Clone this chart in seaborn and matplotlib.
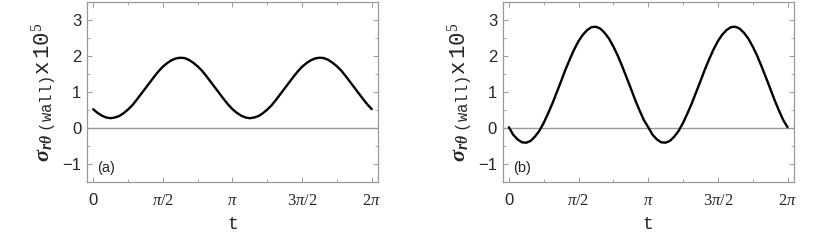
import numpy as np
import pandas as pd
import matplotlib
matplotlib.use("Agg")
import matplotlib.pyplot as plt
import seaborn as sns

# t sampled every pi/32 over 0..2pi
t_steps = list(range(65))  # multiples of pi/32

# panel (a) stress values (x 1e-5)
stress_a = [0.52, 0.42, 0.34, 0.29, 0.27, 0.29, 0.33, 0.41, 0.51, 0.63, 0.78,
            0.94, 1.10, 1.26, 1.42, 1.57, 1.70, 1.80, 1.88, 1.93, 1.95, 1.94,
            1.89, 1.81, 1.71, 1.59, 1.44, 1.28, 1.12, 0.96, 0.80, 0.65, 0.52,
            0.42, 0.34, 0.29, 0.27, 0.29, 0.33, 0.41, 0.51, 0.63, 0.78, 0.94,
            1.10, 1.26, 1.42, 1.57, 1.70, 1.80, 1.88, 1.93, 1.95, 1.94, 1.89,
            1.81, 1.71, 1.59, 1.44, 1.28, 1.12, 0.96, 0.80, 0.65, 0.52]

# panel (b)
stress_b = [0.02, -0.19, -0.32, -0.40, -0.41, -0.36, -0.24, -0.08, 0.14, 0.40,
            0.68, 0.99, 1.30, 1.62, 1.91, 2.18, 2.41, 2.59, 2.72, 2.80, 2.81,
            2.76, 2.64, 2.48, 2.26, 2.01, 1.72, 1.41, 1.10, 0.78, 0.49, 0.22,
            0.02, -0.19, -0.32, -0.40, -0.41, -0.36, -0.24, -0.08, 0.14, 0.40,
            0.68, 0.99, 1.30, 1.62, 1.91, 2.18, 2.41, 2.59, 2.72, 2.80, 2.81,
            2.76, 2.64, 2.48, 2.26, 2.01, 1.72, 1.41, 1.10, 0.78, 0.49, 0.22,
            0.02]

xtick_labels = ["0", r"$\pi/2$", r"$\pi$", r"$3\pi/2$", r"$2\pi$"]
ytick_labels = ["\u22121", "0", "1", "2", "3"]
panel_labels = ["(a)", "(b)"]

sns.set_style("ticks")
plt.rcParams["font.family"] = ["Liberation Sans", "DejaVu Sans"]
plt.rcParams["mathtext.fontset"] = "custom"
plt.rcParams["mathtext.rm"] = "Liberation Serif"
plt.rcParams["mathtext.it"] = "Liberation Serif:italic"
plt.rcParams["mathtext.bf"] = "Liberation Serif:bold"
plt.rcParams["mathtext.bfit"] = "Liberation Serif:bold:italic"
plt.rcParams["mathtext.tt"] = "Liberation Mono"

fig = plt.figure(figsize=(8.2, 2.4), dpi=100)
positions = [[0.106, 0.242, 0.355, 0.750], [0.613, 0.242, 0.355, 0.750]]
frame_col = "#999999"

for pos, vals, lab in zip(positions, [stress_a, stress_b], panel_labels):
    ax = fig.add_axes(pos)
    df = pd.DataFrame({"t": np.array(t_steps) * np.pi / 32, "s": vals})
    ax.axhline(0, color="#999999", lw=1.0, zorder=1)
    sns.lineplot(data=df, x="t", y="s", ax=ax, color="black", lw=1.7, zorder=3)
    ax.set_xlim(-0.14, 2 * np.pi + 0.14)
    ax.set_ylim(-1.5, 3.5)
    ax.set_xticks(np.arange(5) * np.pi / 2)
    ax.set_xticklabels(xtick_labels)
    ax.set_xticks(np.arange(9) * np.pi / 4, minor=True)
    ax.set_yticks([-1, 0, 1, 2, 3])
    ax.set_yticklabels(ytick_labels)
    ax.set_yticks(np.arange(-1.5, 3.6, 0.5), minor=True)
    ax.tick_params(which="both", direction="in", top=True, right=True,
                   color=frame_col, labelsize=12)
    ax.tick_params(axis="x", which="major", pad=8)
    ax.tick_params(axis="y", which="major", pad=4)
    ax.tick_params(which="major", length=3.5, width=0.7)
    ax.tick_params(which="minor", length=2, width=0.6)
    for sp in ax.spines.values():
        sp.set_color(frame_col)
        sp.set_linewidth(0.9)
    ax.set_xlabel("t", family="Liberation Mono", fontsize=13, labelpad=6)
    ax.set_ylabel(r"$\mathbfit{\sigma_{r\theta}}_{\ \mathtt{(wall)}}\mathtt{x\,10}^{5}$",
                  fontsize=16, labelpad=3)
    ax.text(0.1, -1.1, lab, fontsize=10.5, ha="left", va="center")

fig.savefig("out.png", dpi=100)
